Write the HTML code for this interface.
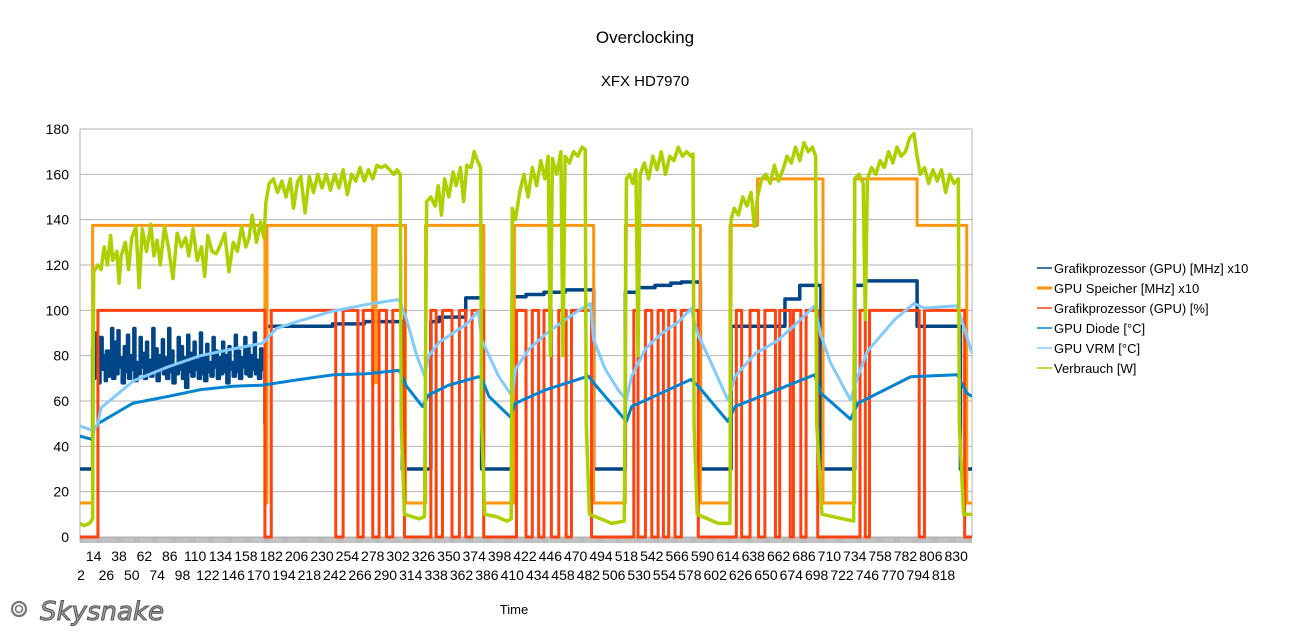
<!DOCTYPE html>
<html><head><meta charset="utf-8">
<style>
body{margin:0;background:#fff;}
svg{display:block;font-family:"Liberation Sans",sans-serif;}
</style></head>
<body>
<svg id="chart" width="1290" height="639" viewBox="0 0 1290 639">
<rect x="0" y="0" width="1290" height="639" fill="#fff"/>
<text x="645" y="43" text-anchor="middle" font-size="17">Overclocking</text>
<text x="645" y="86" text-anchor="middle" font-size="15">XFX HD7970</text>
<text x="514" y="614" text-anchor="middle" font-size="13">Time</text>
<g id="grid"></g>
<g id="ticks"></g>
<g id="ylabels"></g>
<g id="xlabels"></g>
<clipPath id="clip"><rect x="80" y="120" width="892" height="430"/></clipPath>
<g id="series" clip-path="url(#clip)"></g>
<g id="legend"></g>
<g>
<circle cx="19" cy="609" r="7" fill="none" stroke="#777" stroke-width="2.2"/>
<circle cx="19" cy="609" r="3.5" fill="none" stroke="#777" stroke-width="1.6"/>
<text x="40" y="620" font-size="26" font-style="italic" fill="#a0a0a0" stroke="#555" stroke-width="1" font-family="'DejaVu Sans',sans-serif">Skysnake</text>
</g>
</svg>
<script>
// ---- data ----
const yTicks=[0,20,40,60,80,100,120,140,160,180];
const xLabelsTop=[14,38,62,86,110,134,158,182,206,230,254,278,302,326,350,374,398,422,446,470,494,518,542,566,590,614,638,662,686,710,734,758,782,806,830];
const xLabelsBottom=[2,26,50,74,98,122,146,170,194,218,242,266,290,314,338,362,386,410,434,458,482,506,530,554,578,602,626,650,674,698,722,746,770,794,818];
const seriesNames=["Grafikprozessor (GPU) [MHz] x10","GPU Speicher [MHz] x10","Grafikprozessor (GPU) [%]","GPU Diode [°C]","GPU VRM [°C]","Verbrauch [W]"];
// GPU MHz x10 (step): times and values
const gpuClockT=[1,13,14,15,16,17,19,20,22,23,25,26,28,29,31,32,34,35,37,38,40,41,43,44,46,47,49,50,52,53,55,56,58,59,61,62,64,65,67,68,70,71,73,74,76,77,79,80,82,83,85,86,88,89,91,92,94,95,97,98,100,101,103,104,106,107,109,110,112,113,115,116,118,119,121,122,124,125,127,128,130,131,133,134,136,137,139,140,142,143,145,146,148,149,151,152,154,155,157,158,160,161,163,164,166,167,169,170,172,173,175,176,177,240,270,306,333,341,366,381,410,423,440,460,487,517,529,545,560,570,588,617,668,682,702,734,744,793,834];
const gpuClockV=[30,83,70,90,72,85,68,88,74,80,69,82,71,78,92,70,86,72,91,75,79,68,84,73,89,70,80,74,92,69,77,72,88,75,81,70,86,73,78,71,92,74,83,69,80,75,87,72,79,70,92,73,82,68,76,72,88,74,84,70,79,66,89,73,81,71,86,74,78,70,90,72,80,69,85,73,77,71,88,75,82,70,79,72,86,73,80,68,84,74,77,71,89,73,82,70,79,75,88,72,84,71,80,74,90,72,78,70,83,74,80,50,93,94,95,30,95,97,105.5,30,106,107,108,109,30,108,110,111,112,112.5,30,93,105,111,30,111,113,93,30];
// GPU memory x10 (step)
const memT=[1,13,176,178,278,281,309,328,383,412,487,517,588,616,642,704,734,793,840];
const memV=[15,137.5,15,137.5,68,137.5,15,137.5,15,137.5,15,137.5,15,137.5,158,15,158,137.5,15];
// GPU load % (step)
const loadT=[1,18,176,182,243,250,264,269,278,284,291,297,308,333,338,344,353,360,366,372,383,414,423,429,435,440,447,454,461,466,485,525,529,536,542,548,553,558,564,570,586,622,627,635,643,649,659,663,673,676,683,688,699,739,744,748,795,800,838];
const loadV=[0,100,0,100,0,100,0,100,0,100,0,100,0,100,0,100,0,100,0,100,0,100,0,100,0,100,0,100,0,100,0,100,0,100,0,100,0,100,0,100,0,100,0,100,0,100,0,100,0,100,0,100,0,100,0,100,0,100,0];
// GPU diode °C
const diodeT=[1,13,14,18,51,84,115,146,174,209,240,272,303,310,325,331,350,378,381,388,408,413,442,482,487,518,523,551,579,586,614,621,661,696,702,730,737,787,831,840,845];
const diodeV=[44.5,43,47,50,59,62,65,66.5,67,69.5,71.5,72,73.5,66.5,57.6,62.7,67,70.7,70,62,53,59,65,71,68,51,57.6,63.5,69.5,66.5,51,57.6,65,71.6,63.5,52,59,70.7,71.6,63.5,62];
// GPU VRM °C
const vrmT=[1,13,14,18,21,52,84,115,146,174,187,209,240,272,303,310,319,327,331,341,366,378,381,388,397,410,413,426,442,457,473,484,487,498,510,518,523,536,551,567,579,586,598,614,621,640,661,677,696,702,711,730,737,746,772,790,800,831,845];
const vrmV=[49,47,47,50,57,69,75,80,83,85.5,92,95.4,99.6,102.6,104.8,96,81,71,80,86,93.7,99.6,87,80,71,62,74,83,89.7,94.8,100,103,87,74,65,60.4,71,83,89.7,94.8,100.7,89,77,60.4,71,81,86.6,93.4,102,89,77,60.4,71,82,96,103,101,102,81];
// Power W
const powT=[1,5,10,13,14,18,21,24,27,30,32,36,38,40,44,47,50,54,57,60,64,68,71,74,77,81,85,89,93,97,101,104,108,112,116,119,122,126,130,134,138,142,146,150,154,158,161,164,168,172,175,177,180,184,188,192,196,200,203,207,210,214,218,222,226,230,234,238,242,246,250,254,258,262,266,270,274,278,282,286,290,294,298,301,304,305,308,315,322,327,329,333,337,340,343,346,350,354,357,361,364,367,371,374,377,380,381,384,395,405,409,410,413,417,421,425,429,433,437,441,444,446,448,452,456,458,460,464,468,472,476,479,480,483,494,504,516,518,521,524,527,529,531,535,539,543,547,551,555,559,563,567,571,575,579,581,582,585,595,605,616,617,620,624,628,632,636,639,642,646,650,654,658,662,666,670,674,678,682,686,690,694,697,698,703,713,723,733,734,738,742,744,746,750,754,758,762,766,770,774,778,782,786,790,793,796,800,804,808,812,816,820,824,828,832,833,837,845];
const powV=[6,5,6,8,117,120,118,128,120,133,122,126,112,124,130,118,132,137,110,136,126,138,124,131,120,137,127,114,134,128,132,124,136,122,128,115,133,126,125,129,134,117,130,126,137,128,132,142,130,139,132,148,156,158,152,157,150,158,145,157,159,143,159,152,160,154,160,153,160,154,162,151,160,157,163,157,162,158,164,163,164,162,160,162,160,50,10,9,8,9,148,150,146,155,142,158,150,161,155,163,148,164,163,170,166,163,50,10,9,7,8,145,140,152,160,150,163,155,166,158,168,80,167,160,170,80,168,165,170,168,172,171,50,10,8,6,7,158,160,156,162,80,160,165,158,168,162,170,160,168,166,172,168,170,168,169,50,10,8,6,6,140,145,142,150,146,152,137,150,158,160,156,164,157,162,168,165,172,166,174,170,172,168,50,10,9,8,7,158,160,156,96,158,163,160,166,163,170,165,172,168,170,176,178,168,160,163,156,162,157,162,152,160,156,158,50,10,10];
const colors=["#004586","#ff950e","#ff420e","#0084d1","#83caff","#aecf00"];

// ---- scales ----
const X0=81, XW=1.057, Y0=537, YS=(537-129)/180;
function xs(t){return X0+(t-2)*XW;}
function ys(v){return Y0-v*YS;}
const NS="http://www.w3.org/2000/svg";
function mk(tag,attrs,parent){const e=document.createElementNS(NS,tag);for(const k in attrs)e.setAttribute(k,attrs[k]);parent.appendChild(e);return e;}

// grid
const grid=document.getElementById('grid');
yTicks.forEach(v=>{
  const l=mk('line',{x1:80,x2:972,y1:ys(v),y2:ys(v),stroke:'#b3b3b3','stroke-width':1},grid);
  
  
});
const fr=mk('line',{x1:80,x2:80,y1:ys(180),y2:542,stroke:'#b3b3b3','stroke-width':1},grid);


const fr2=mk('line',{x1:972,x2:972,y1:ys(180),y2:537,stroke:'#b3b3b3','stroke-width':1},grid);


// ticks
const tk=document.getElementById('ticks');
let d='';
for(let t=1;t<=845;t++){const x=xs(t)-XW/2;if(x<80||x>972)continue;d+='M'+x.toFixed(2)+' 537V543';}
const tp=mk('path',{d:d,stroke:'#a0a0a0','stroke-width':0.7,fill:'none'},tk);


// y labels
const yl=document.getElementById('ylabels');
yTicks.forEach(v=>{
  const t=mk('text',{x:69,y:ys(v)+5,'text-anchor':'end','font-size':14},yl);
  t.textContent=v;
  
  
});
// x labels
const xl=document.getElementById('xlabels');
xLabelsTop.forEach(v=>{
  const t=mk('text',{x:xs(v),y:561,'text-anchor':'middle','font-size':14},xl);
  t.textContent=v;
  
  
});
xLabelsBottom.forEach(v=>{
  const t=mk('text',{x:xs(v),y:580,'text-anchor':'middle','font-size':14},xl);
  t.textContent=v;
  
  
});
// series
const sg=document.getElementById('series');
function stepPath(T,V){let p='M'+xs(T[0])+' '+ys(V[0]);for(let i=1;i<T.length;i++){p+='H'+xs(T[i])+'V'+ys(V[i]);}p+='H'+xs(845);return p;}
function linePath(T,V){let p='';for(let i=0;i<T.length;i++){p+=(i?'L':'M')+xs(T[i]).toFixed(2)+' '+ys(V[i]).toFixed(2);}return p;}
const defs=[[stepPath(gpuClockT,gpuClockV),'gpu-clock-line',3.5],[stepPath(memT,memV),'gpu-memory-line',3],[stepPath(loadT,loadV),'gpu-load-line',3],[linePath(diodeT,diodeV),'gpu-diode-line',3],[linePath(vrmT,vrmV),'gpu-vrm-line',3],[linePath(powT,powV),'power-line',3.5]];
defs.forEach((s,i)=>{
  const p=mk('path',{d:s[0],stroke:colors[i],'stroke-width':s[2],fill:'none','stroke-linejoin':'round'},sg);
  
  
});
// legend
const lg=document.getElementById('legend');
seriesNames.forEach((n,i)=>{
  const y=268+i*20;
  const l=mk('line',{x1:1037,x2:1052,y1:y,y2:y,stroke:colors[i],'stroke-width':i==1?3:1.5},lg);
  
  
  const t=mk('text',{x:1054,y:y+5,'font-size':13},lg);
  t.textContent=n;
  
  
});
</script>
</body></html>
